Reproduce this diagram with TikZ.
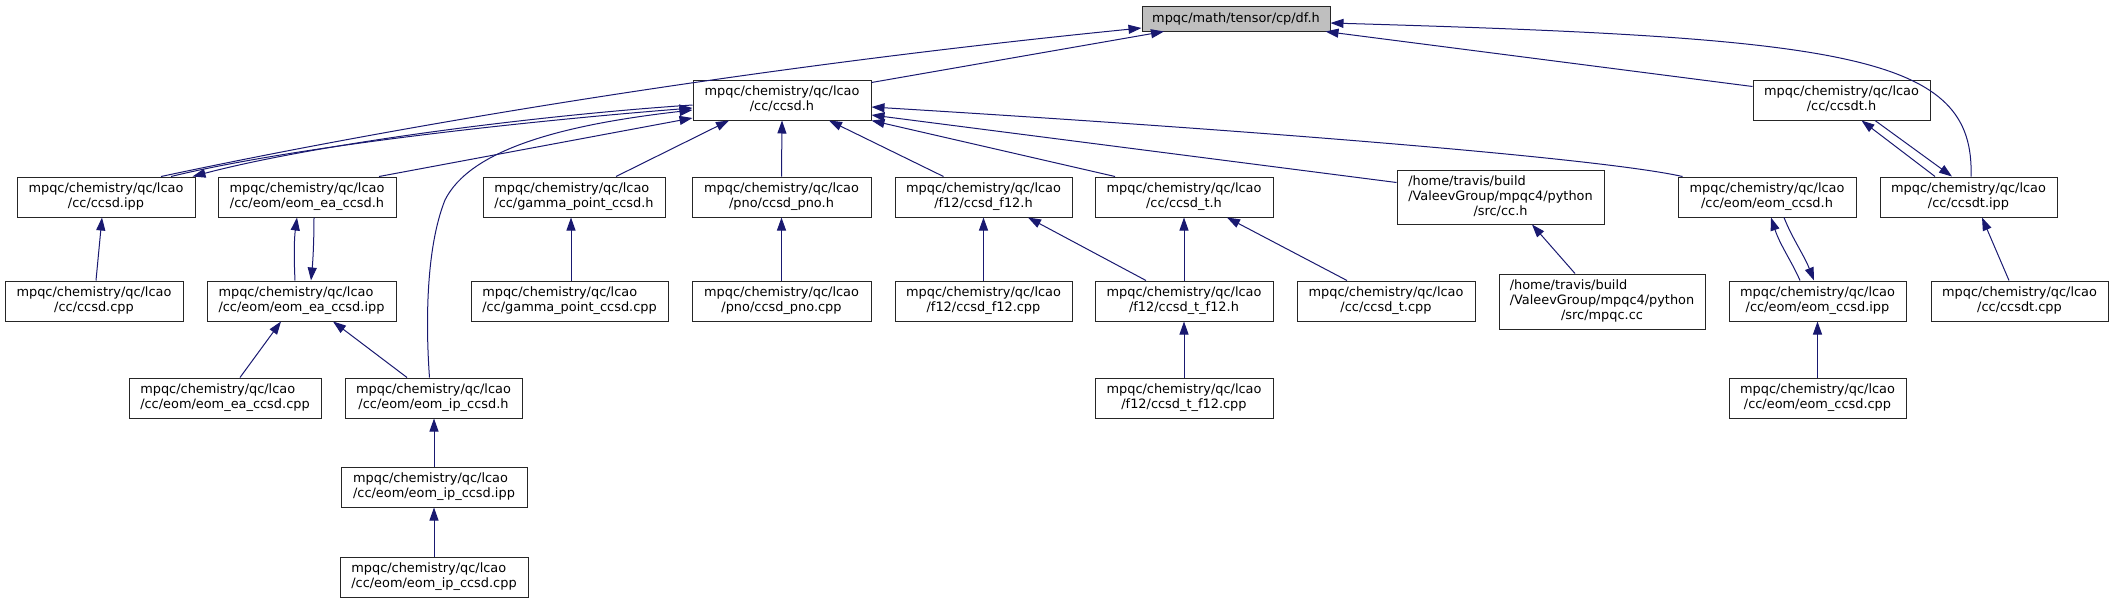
\documentclass[tikz,border=0pt]{standalone}
\usepackage{fontspec}
\setmainfont{DejaVu Sans}
\usetikzlibrary{arrows.meta}
\definecolor{edgecol}{HTML}{191970}
\definecolor{dfgray}{HTML}{BFBFBF}
\newcommand\lbl[2]{\begin{tabular}{@{}l@{}}#1\\\multicolumn{1}{@{}c@{}}{#2}\end{tabular}}
\newcommand\lbll[3]{\begin{tabular}{@{}l@{}}#1\\#2\\\multicolumn{1}{@{}c@{}}{#3}\end{tabular}}
\newcommand\mq{mpqc/chemistry/qc/lcao}
\begin{document}
\begin{tikzpicture}[x=1pt,y=-1pt,
  box/.style={draw=black!85, line width=1pt, fill=white, inner sep=0pt,
    minimum height=40pt, font=\fontsize{12.9}{15}\selectfont},
  edge/.style={draw=edgecol, line width=1pt, {Triangle[length=13pt,width=9pt]}-}]
\useasboundingbox (0,0) rectangle (2113,603);
% row 0
\node[box, fill=dfgray, minimum width=188pt, minimum height=25pt] (df) at (1236,18.5) {mpqc/math/tensor/cp/df.h};
% row 1
\node[box, minimum width=178pt] (ccsdh) at (782,100) {\lbl{\mq}{/cc/ccsd.h}};
\node[box, minimum width=177pt] (ccsdth) at (1841.5,100) {\lbl{\mq}{/cc/ccsdt.h}};
% row 2
\node[box, minimum width=178pt] (ccsdipp) at (106,197) {\lbl{\mq}{/cc/ccsd.ipp}};
\node[box, minimum width=178pt] (eaH) at (307,197) {\lbl{\mq}{/cc/eom/eom\_ea\_ccsd.h}};
\node[box, minimum width=182pt] (gammaH) at (574,197) {\lbl{\mq}{/cc/gamma\_point\_ccsd.h}};
\node[box, minimum width=179pt] (pnoH) at (781.5,197) {\lbl{\mq}{/pno/ccsd\_pno.h}};
\node[box, minimum width=177pt] (f12H) at (983.5,197) {\lbl{\mq}{/f12/ccsd\_f12.h}};
\node[box, minimum width=178pt] (tH) at (1184,197) {\lbl{\mq}{/cc/ccsd\_t.h}};
\node[box, minimum width=207pt, minimum height=54pt] (cch) at (1500.5,197) {\lbll{/home/travis/build}{/ValeevGroup/mpqc4/python}{/src/cc.h}};
\node[box, minimum width=178pt] (eomH) at (1767,197) {\lbl{\mq}{/cc/eom/eom\_ccsd.h}};
\node[box, minimum width=177pt] (ccsdtipp) at (1968.5,197) {\lbl{\mq}{/cc/ccsdt.ipp}};
% row 3
\node[box, minimum width=178pt] (ccsdcpp) at (94,301) {\lbl{\mq}{/cc/ccsd.cpp}};
\node[box, minimum width=189pt] (eaIpp) at (301.5,301) {\lbl{\mq}{/cc/eom/eom\_ea\_ccsd.ipp}};
\node[box, minimum width=197pt] (gammaCpp) at (569.5,301) {\lbl{\mq}{/cc/gamma\_point\_ccsd.cpp}};
\node[box, minimum width=179pt] (pnoCpp) at (781.5,301) {\lbl{\mq}{/pno/ccsd\_pno.cpp}};
\node[box, minimum width=177pt] (f12Cpp) at (983.5,301) {\lbl{\mq}{/f12/ccsd\_f12.cpp}};
\node[box, minimum width=178pt] (tf12H) at (1184,301) {\lbl{\mq}{/f12/ccsd\_t\_f12.h}};
\node[box, minimum width=178pt] (tCpp) at (1386,301) {\lbl{\mq}{/cc/ccsd\_t.cpp}};
\node[box, minimum width=206pt, minimum height=55pt] (mpqccc) at (1602,301.5) {\lbll{/home/travis/build}{/ValeevGroup/mpqc4/python}{/src/mpqc.cc}};
\node[box, minimum width=177pt] (eomIpp) at (1817.5,301) {\lbl{\mq}{/cc/eom/eom\_ccsd.ipp}};
\node[box, minimum width=177pt] (ccsdtCpp) at (2019.5,301) {\lbl{\mq}{/cc/ccsdt.cpp}};
% row 4
\node[box, minimum width=192pt] (eaCpp) at (225,398) {\lbl{\mq}{/cc/eom/eom\_ea\_ccsd.cpp}};
\node[box, minimum width=177pt] (ipH) at (433.5,398) {\lbl{\mq}{/cc/eom/eom\_ip\_ccsd.h}};
\node[box, minimum width=178pt] (tf12Cpp) at (1184,398) {\lbl{\mq}{/f12/ccsd\_t\_f12.cpp}};
\node[box, minimum width=177pt] (eomCpp) at (1817.5,398) {\lbl{\mq}{/cc/eom/eom\_ccsd.cpp}};
% row 5, 6
\node[box, minimum width=186pt] (ipIpp) at (434,487) {\lbl{\mq}{/cc/eom/eom\_ip\_ccsd.ipp}};
\node[box, minimum width=188pt] (ipCpp) at (434,577) {\lbl{\mq}{/cc/eom/eom\_ip\_ccsd.cpp}};

% edges into df.h
\draw[edge] ([yshift=-9.5pt]df.west) .. controls (800,62) and (450,115) .. ([xshift=55pt]ccsdipp.north);
\draw[edge] ([xshift=-72pt]df.south) -- ([yshift=-3pt]ccsdh.north east);
\draw[edge] ([xshift=-5pt]df.south east) -- ([yshift=-7pt]ccsdth.north west);
\draw[edge] ([yshift=-4.5pt]df.east) .. controls (1850,38) and (1975,55) .. ([xshift=2.5pt]ccsdtipp.north);
% edges into ccsd.h
\draw[edge] ([yshift=-8pt]ccsdh.west) .. controls (540,120) and (300,145) .. ([xshift=65pt]ccsdipp.north);
\draw[edge] ([xshift=-3pt]ccsdipp.north east) .. controls (320,143) and (540,115) .. ([yshift=-5pt]ccsdh.west);
\draw[edge] ([yshift=-18pt]ccsdh.west) -- ([xshift=72pt]eaH.north);
\draw[edge] ([yshift=-10pt]ccsdh.west) .. controls (560,125) and (470,150) .. (445,200) .. controls (425,250) and (426,330) .. ([xshift=-4pt]ipH.north);
\draw[edge] ([xshift=-53pt]ccsdh.south) -- ([xshift=42pt]gammaH.north);
\draw[edge] (ccsdh.south) -- (pnoH.north);
\draw[edge] ([xshift=47pt]ccsdh.south) -- ([xshift=-40pt]f12H.north);
\draw[edge] (ccsdh.south east) -- ([xshift=-69pt]tH.north);
\draw[edge] ([yshift=-15pt]ccsdh.east) -- ([yshift=-13pt]cch.north west);
\draw[edge] ([yshift=-7pt]ccsdh.east) .. controls (1250,130) and (1600,158) .. ([xshift=5pt]eomH.north west);
% lower edges
\draw[edge] ([xshift=-4pt]ccsdipp.south) -- ([xshift=2pt]ccsdcpp.north);
\draw[edge] ([xshift=-10pt]eaH.south) .. controls (294,240) and (294,260) .. ([xshift=-6.5pt]eaIpp.north);
\draw[edge] ([xshift=9.5pt]eaIpp.north) .. controls (313,260) and (314,240) .. ([xshift=7pt]eaH.south);
\draw[edge] ([xshift=-3pt]gammaH.south) -- ([xshift=1.5pt]gammaCpp.north);
\draw[edge] (pnoH.south) -- (pnoCpp.north);
\draw[edge] (f12H.south) -- (f12Cpp.north);
\draw[edge] ([xshift=44.5pt]f12H.south) -- ([xshift=-38pt]tf12H.north);
\draw[edge] (tH.south) -- (tf12H.north);
\draw[edge] ([xshift=43pt]tH.south) -- ([xshift=-39pt]tCpp.north);
\draw[edge] ([xshift=31.5pt]cch.south) -- ([xshift=-27pt]mpqccc.north);
\draw[edge] ([xshift=4pt]eomH.south) .. controls (1780,245) and (1792,262) .. ([xshift=-17.5pt]eomIpp.north);
\draw[edge] ([xshift=-3.5pt]eomIpp.north) .. controls (1804,255) and (1792,238) .. ([xshift=17pt]eomH.south);
\draw[edge] ([xshift=20pt]ccsdth.south) -- ([xshift=-33.5pt]ccsdtipp.north);
\draw[edge] ([xshift=-16.5pt]ccsdtipp.north) -- ([xshift=33.5pt]ccsdth.south);
\draw[edge] ([xshift=13.5pt]ccsdtipp.south) -- ([xshift=-10.5pt]ccsdtCpp.north);
\draw[edge] ([xshift=-20.5pt]eaIpp.south) -- ([xshift=15pt]eaCpp.north);
\draw[edge] ([xshift=31.5pt]eaIpp.south) -- ([xshift=-26.5pt]ipH.north);
\draw[edge] ([xshift=0.5pt]ipH.south) -- (ipIpp.north);
\draw[edge] (ipIpp.south) -- (ipCpp.north);
\draw[edge] (tf12H.south) -- (tf12Cpp.north);
\draw[edge] (eomIpp.south) -- (eomCpp.north);
\end{tikzpicture}
\end{document}
